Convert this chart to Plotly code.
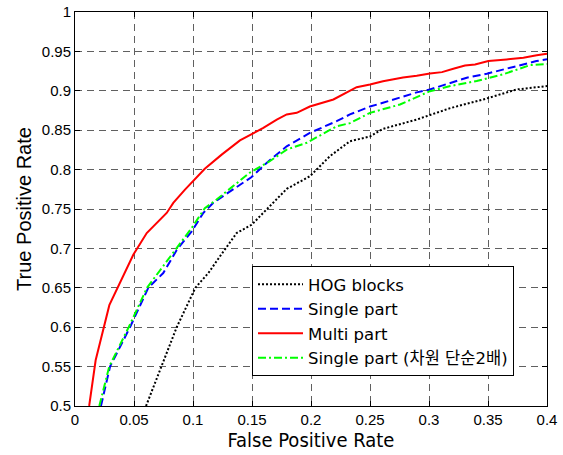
import plotly.graph_objects as go

# HOG blocks
hog_fpr = [0.0602, 0.0735, 0.0862, 0.102, 0.113, 0.1229, 0.137, 0.1497, 0.1624, 0.1794, 0.199, 0.216, 0.233,
           0.25, 0.261, 0.275, 0.2896, 0.318, 0.346, 0.3743, 0.4]
hog_tpr = [0.5, 0.55, 0.6, 0.65, 0.6687, 0.690, 0.7195, 0.730, 0.749, 0.7755, 0.7915, 0.817, 0.836,
           0.842, 0.8517, 0.857, 0.8635, 0.878, 0.889, 0.9017, 0.906]

# Single part
single_fpr = [0.022, 0.0297, 0.0466, 0.0621, 0.0748, 0.0862, 0.0989, 0.1087, 0.1172, 0.134, 0.1497, 0.1624,
              0.1794, 0.199, 0.2217, 0.233, 0.25, 0.261, 0.2754, 0.2896, 0.3008, 0.318, 0.332, 0.349, 0.363,
              0.38, 0.391, 0.4]
single_tpr = [0.5, 0.55, 0.6, 0.65, 0.6687, 0.698, 0.7216, 0.745, 0.758, 0.7746, 0.7906, 0.8085,
              0.8296, 0.8466, 0.8614, 0.870, 0.880, 0.8848, 0.891, 0.898, 0.9017, 0.910, 0.9166, 0.9217, 0.927,
              0.9326, 0.9377, 0.940]

# Multi part
multi_fpr = [0.012, 0.0175, 0.0291, 0.0396, 0.0494, 0.0608, 0.0777, 0.0833, 0.0932, 0.110, 0.1243,
             0.1398, 0.1497, 0.1596, 0.171, 0.1794, 0.1879, 0.199, 0.219, 0.233, 0.2387, 0.25, 0.261, 0.278,
             0.2896, 0.3008, 0.311, 0.3206, 0.3305, 0.339, 0.3503, 0.3658, 0.38, 0.3913, 0.4]
multi_tpr = [0.5, 0.558, 0.628, 0.66, 0.692, 0.7195, 0.745, 0.7577, 0.7746, 0.801, 0.819,
             0.837, 0.845, 0.853, 0.8635, 0.870, 0.872, 0.880, 0.889, 0.8995, 0.9046, 0.908, 0.912, 0.917,
             0.919, 0.922, 0.9237, 0.928, 0.932, 0.9335, 0.9377, 0.9398, 0.942, 0.945, 0.947]

# Single part (dimension simplified x2)
single2_fpr = [0.0206, 0.029, 0.0455, 0.061, 0.0989, 0.11, 0.12, 0.134, 0.148, 0.165, 0.1794, 0.1964,
               0.2217, 0.233, 0.25, 0.2754, 0.3008, 0.318, 0.3404, 0.363, 0.3856, 0.4]
single2_tpr = [0.5, 0.55, 0.6, 0.65, 0.726, 0.751, 0.762, 0.779, 0.796, 0.8106, 0.8254, 0.834,
               0.855, 0.859, 0.872, 0.8826, 0.8995, 0.906, 0.9124, 0.921, 0.9326, 0.934]

series_names = ["HOG blocks", "Single part", "Multi part", "Single part (차원 단순2배)"]

x_ticks = [0, 0.05, 0.1, 0.15, 0.2, 0.25, 0.3, 0.35, 0.4]
x_ticklabels = ["0", "0.05", "0.1", "0.15", "0.2", "0.25", "0.3", "0.35", "0.4"]
y_ticks = [0.5, 0.55, 0.6, 0.65, 0.7, 0.75, 0.8, 0.85, 0.9, 0.95, 1]
y_ticklabels = ["0.5", "0.55", "0.6", "0.65", "0.7", "0.75", "0.8", "0.85", "0.9", "0.95", "1"]

fig = go.Figure()
fig.add_trace(go.Scatter(x=hog_fpr, y=hog_tpr, mode="lines", name=series_names[0],
                         line=dict(color="black", width=2, dash="2px,2px")))
fig.add_trace(go.Scatter(x=single_fpr, y=single_tpr, mode="lines", name=series_names[1],
                         line=dict(color="#0000ff", width=2, dash="8px,4px")))
fig.add_trace(go.Scatter(x=multi_fpr, y=multi_tpr, mode="lines", name=series_names[2],
                         line=dict(color="#ff0000", width=2, dash="solid")))
fig.add_trace(go.Scatter(x=single2_fpr, y=single2_tpr, mode="lines", name=series_names[3],
                         line=dict(color="#00ff00", width=2, dash="8px,3px,2px,3px")))

axis_common = dict(
    showline=True, linecolor="black", linewidth=1, mirror="ticks",
    ticks="inside", ticklen=5, tickcolor="black",
    showgrid=True, gridcolor="#606060", griddash="7px,5px", gridwidth=1,
    zeroline=False, automargin=False,
    tickfont=dict(family="Liberation Sans, Arial", size=15, color="black"),
)

fig.update_xaxes(range=[0, 0.4], tickvals=x_ticks, ticktext=x_ticklabels,
                 title=dict(text="False Positive Rate", standoff=4,
                            font=dict(family="DejaVu Sans Condensed, DejaVu Sans", size=20, color="black")),
                 **axis_common)
fig.update_yaxes(range=[0.5, 1], tickvals=y_ticks, ticktext=y_ticklabels,
                 title=dict(text="True Positive Rate", standoff=4,
                            font=dict(family="Liberation Sans, Arial", size=20, color="black")),
                 **axis_common)

fig.update_layout(
    width=563, height=455,
    margin=dict(l=75, r=16, t=12, b=49),
    paper_bgcolor="white", plot_bgcolor="white",
    showlegend=True,
    legend=dict(x=0.375, y=0.355, xanchor="left", yanchor="top",
                bgcolor="white", bordercolor="black", borderwidth=1,
                font=dict(family="DejaVu Sans, Noto Sans CJK KR", size=16.5, color="black"),
                tracegroupgap=0, itemwidth=45),
)

fig.write_html("out.html", config={"displayModeBar": False},
               post_script="document.body.style.margin='0px';")
